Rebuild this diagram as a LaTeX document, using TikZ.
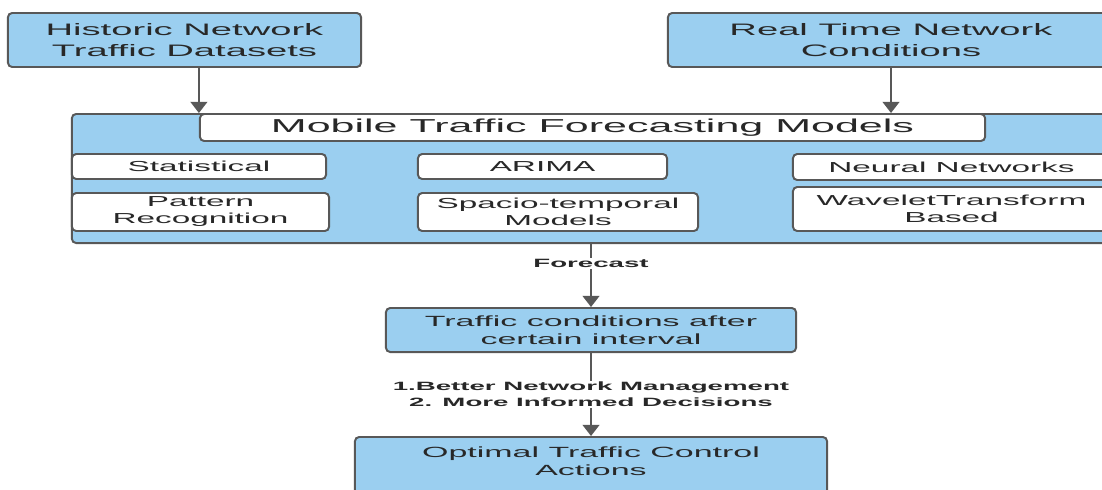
\documentclass[tikz,border=0pt]{standalone}
\usepackage{fontspec}
\setmainfont{Liberation Sans}[FakeStretch=2.3]
\usetikzlibrary{arrows.meta}

\definecolor{boxblue}{RGB}{155,207,240}
\definecolor{edgegray}{RGB}{88,88,88}
\definecolor{txtgray}{RGB}{40,40,40}

\newcommand{\headtext}{\fontsize{11.8}{14.6}\selectfont}
\newcommand{\midtext}{\fontsize{10.5}{12.8}\selectfont}
\newcommand{\titletext}{\fontsize{13.3}{15}\selectfont}
\newcommand{\modeltext}{\fontsize{10.3}{12.1}\selectfont}
\newcommand{\tagtext}{\bfseries\fontsize{8.55}{11.3}\selectfont}

\tikzstyle{block} = [rectangle, draw=edgegray, line width=1.4pt, rounded corners=3pt, fill=boxblue, text=txtgray, align=center, inner sep=1pt]
\tikzstyle{model} = [block, fill=white, font=\modeltext]
\tikzstyle{flow} = [draw=edgegray, line width=1.4pt, -{Triangle[width=12pt,length=8pt]}]
\tikzstyle{tag} = [fill=white, inner sep=1pt, align=center, text=txtgray, font=\tagtext]

\begin{document}
\begin{tikzpicture}[x=0.025cm, y=-0.025cm]
        \useasboundingbox (0,0) rectangle (1102,489);
        % inputs
        \node[block, minimum width=8.825cm, minimum height=1.35cm, font=\headtext] (historic) at (184.5,40) {Historic Network\\Traffic Datasets};
        \node[block, minimum width=11.15cm, minimum height=1.35cm, font=\headtext] (realtime) at (891,40) {Real Time Network\\Conditions};

        % forecasting models
        \node[block, minimum width=26cm, minimum height=3.225cm] (models) at (592,178.5) {};
        \node[model, minimum width=19.625cm, minimum height=0.675cm, font=\titletext] (title) at (592.5,127.5) {Mobile Traffic Forecasting Models};
        \node[model, minimum width=6.35cm, minimum height=0.625cm] (statistical) at (199,166.5) {Statistical};
        \node[model, minimum width=6.425cm, minimum height=0.95cm] (pattern) at (200.5,212) {Pattern\\Recognition};
        \node[model, minimum width=6.225cm, minimum height=0.625cm] (arima) at (542.5,166.5) {ARIMA};
        \node[model, minimum width=7cm, minimum height=0.95cm] (spacio) at (558,212) {Spacio-temporal\\Models};
        \node[model, minimum width=7.925cm, minimum height=0.65cm] (neural) at (951.5,167) {Neural Networks};
        \node[model, minimum width=7.925cm, minimum height=1.1cm] (wavelet) at (951.5,209) {WaveletTransform\\Based};

        % outputs
        \node[block, minimum width=10.25cm, minimum height=1.1cm, font=\midtext] (traffic) at (591,330) {Traffic conditions after\\certain interval};
        \node[block, anchor=north, minimum width=11.8cm, inner ysep=7pt, text depth=1.5cm, font=\midtext] (optimal) at (591,436) {Optimal Traffic Control\\Actions};

        \draw[flow] (title.north west |- historic.south) -- (title.north west);
        \draw[flow] (realtime.south) -- (realtime.south |- models.north);
        \draw[flow] (traffic.north |- models.south) -- node[tag, pos=0.31] {Forecast} (traffic.north);
        \draw[flow] (traffic.south) -- node[tag, pos=0.5] {1.Better Network Management\\2. More Informed Decisions} (optimal.north);
    \end{tikzpicture}
\end{document}
